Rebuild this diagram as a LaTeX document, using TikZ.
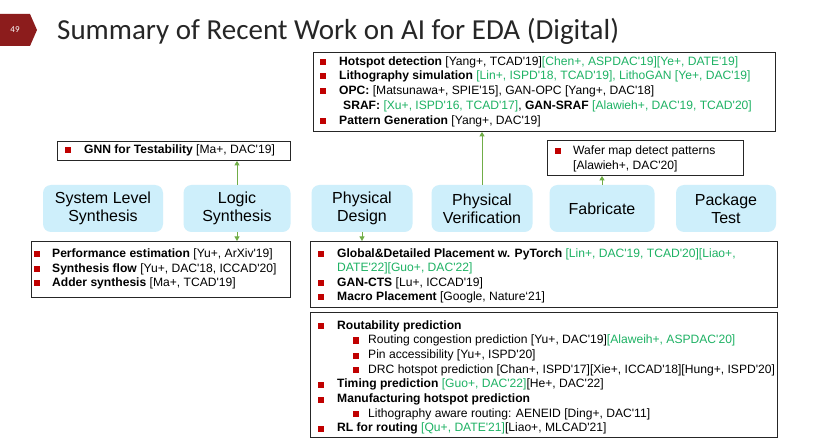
\documentclass[tikz,border=0pt]{standalone}
\usepackage{fontspec}
\setmainfont{Liberation Sans}[Ligatures=TeXOff]
\newfontfamily\titlefont{Carlito}
\usetikzlibrary{arrows.meta}
\definecolor{refgreen}{RGB}{30,178,100}
\definecolor{bulred}{RGB}{192,0,0}
\definecolor{stagefill}{RGB}{206,239,251}
\definecolor{arrgreen}{RGB}{112,173,71}
\definecolor{numred}{RGB}{140,28,28}
\definecolor{titlegray}{RGB}{38,38,38}
\newcommand{\gr}[1]{\textcolor{refgreen}{#1}}
\begin{document}
\begin{tikzpicture}[x=1pt,y=-1pt,
  font=\fontsize{12.1}{14}\selectfont,
  box/.style={draw=black!85, line width=0.9pt, inner sep=0, anchor=north west},
  stage/.style={fill=stagefill, rounded corners=8pt, inner sep=0, align=center,
    font=\fontsize{16}{18}\selectfont},
  txt/.style={anchor=west, inner sep=0},
  bul/.style={fill=bulred, minimum size=6pt, inner sep=0},
  arr/.style={draw=arrgreen, line width=0.9pt, -{Triangle[length=4.5pt,width=5pt]}}]
\useasboundingbox[fill=white] (0,0) rectangle (830,446);

% slide number and title
\fill[numred] (0,14) -- (30,14) -- (37,30) -- (30,46) -- (0,46) -- cycle;
\node[text=white, font=\titlefont\fontsize{9}{9}\selectfont] (num) at (15,30) {49};
\node[anchor=base west, inner sep=0, text=titlegray, font=\titlefont\fontsize{29}{30}\selectfont] (title) at (57,40) {Summary of Recent Work on AI for EDA (Digital)};

% stage boxes
\node[stage, minimum width=120pt, minimum height=47pt] (sls) at (103,208.5) {System Level\\Synthesis};
\node[stage, minimum width=107pt, minimum height=47pt] (ls) at (237,208.5) {Logic\\Synthesis};
\node[stage, minimum width=101pt, minimum height=47pt] (pd) at (362,208.5) {Physical\\Design};
\node[stage, minimum width=101pt, minimum height=47pt] (pv) at (482,208.5) {Physical\\Verification};
\node[stage, minimum width=105pt, minimum height=47pt] (fab) at (602,208.5) {Fabricate};
\node[stage, minimum width=100pt, minimum height=47pt] (pt) at (726,208.5) {Package\\Test};

% top box
\node[box, minimum width=462pt, minimum height=79pt] (topbox) at (313,52) {};
\node[bul] (b1) at (323,62) {};
\node[txt] (t1) at (339,62) {\textbf{Hotspot detection} [Yang+, TCAD'19]\gr{[Chen+, ASPDAC'19][Ye+, DATE'19]}};
\node[bul] (b2) at (323,76.5) {};
\node[txt] (t2) at (339,76.5) {\textbf{Lithography simulation} \gr{[Lin+, ISPD'18, TCAD'19], LithoGAN [Ye+, DAC'19]}};
\node[bul] (b3) at (323,91.5) {};
\node[txt] (t3) at (339,91.5) {\textbf{OPC:} [Matsunawa+, SPIE'15], GAN-OPC [Yang+, DAC'18]};
\node[txt] (t4) at (343,106.5) {\textbf{SRAF:} \gr{[Xu+, ISPD'16, TCAD'17]}, \textbf{GAN-SRAF} \gr{[Alawieh+, DAC'19, TCAD'20]}};
\node[bul] (b5) at (323,121.5) {};
\node[txt] (t5) at (339,121.5) {\textbf{Pattern Generation} [Yang+, DAC'19]};

% GNN box
\node[box, minimum width=233pt, minimum height=19pt] (gnn) at (57,141) {};
\node[bul] (bg) at (68,150.5) {};
\node[txt] (tg) at (84,150.5) {\textbf{GNN for Testability} [Ma+, DAC'19]};

% wafer box
\node[box, minimum width=196pt, minimum height=35pt] (wafer) at (547,140) {};
\node[bul] (bw) at (558,151.5) {};
\node[txt] (tw1) at (573,151.5) {Wafer map detect patterns};
\node[txt] (tw2) at (573,166) {[Alawieh+, DAC'20]};

% performance box
\node[box, minimum width=259pt, minimum height=56pt] (perf) at (31,241) {};
\node[bul] (bp1) at (37,254.5) {};
\node[txt] (tp1) at (52,254.5) {\textbf{Performance estimation} [Yu+, ArXiv'19]};
\node[bul] (bp2) at (37,269) {};
\node[txt] (tp2) at (52,269) {\textbf{Synthesis flow} [Yu+, DAC'18, ICCAD'20]};
\node[bul] (bp3) at (37,283.5) {};
\node[txt] (tp3) at (52,283.5) {\textbf{Adder synthesis} [Ma+, TCAD'19]};

% placement box
\node[box, minimum width=467pt, minimum height=66pt] (place) at (310,241) {};
\node[bul] (bq1) at (321,254) {};
\node[txt] (tq1) at (337,254) {\textbf{Global\&Detailed Placement w. PyTorch} \gr{[Lin+, DAC'19, TCAD'20][Liao+,}};
\node[txt] (tq1b) at (337,268.5) {\gr{DATE'22][Guo+, DAC'22]}};
\node[bul] (bq2) at (321,283) {};
\node[txt] (tq2) at (337,283) {\textbf{GAN-CTS} [Lu+, ICCAD'19]};
\node[bul] (bq3) at (321,297.5) {};
\node[txt] (tq3) at (337,297.5) {\textbf{Macro Placement} [Google, Nature‘21]};

% routing box
\node[box, minimum width=467pt, minimum height=125pt] (route) at (310,312) {};
\node[bul] (br1) at (321,326) {};
\node[txt] (tr1) at (337,326) {\textbf{Routability prediction}};
\node[bul] (br2) at (356,340.5) {};
\node[txt] (tr2) at (368,340.5) {Routing congestion prediction [Yu+, DAC'19]\gr{[Alaweih+, ASPDAC'20]}};
\node[bul] (br3) at (356,355.5) {};
\node[txt] (tr3) at (368,355.5) {Pin accessibility [Yu+, ISPD'20]};
\node[bul] (br4) at (356,370) {};
\node[txt] (tr4) at (368,370) {DRC hotspot prediction [Chan+, ISPD'17][Xie+, ICCAD'18][Hung+, ISPD'20]};
\node[bul] (br5) at (321,384.5) {};
\node[txt] (tr5) at (337,384.5) {\textbf{Timing prediction} \gr{[Guo+, DAC'22]}[He+, DAC'22]};
\node[bul] (br6) at (321,399.5) {};
\node[txt] (tr6) at (337,399.5) {\textbf{Manufacturing hotspot prediction}};
\node[bul] (br7) at (356,414) {};
\node[txt] (tr7) at (368,414) {Lithography aware routing: AENEID [Ding+, DAC'11]};
\node[bul] (br8) at (321,428.5) {};
\node[txt] (tr8) at (337,428.5) {\textbf{RL for routing} \gr{[Qu+, DATE'21]}[Liao+, MLCAD'21]};

% connectors
\draw[arr] (ls.north) -- (ls.north |- gnn.south);
\draw[arr] (pv.north) -- (pv.north |- topbox.south);
\draw[arr] (fab.north) -- (fab.north |- wafer.south);
\draw[arr] (ls.south) -- (ls.south |- perf.north);
\draw[arr] (pd.south) -- (pd.south |- place.north);
\end{tikzpicture}
\end{document}
